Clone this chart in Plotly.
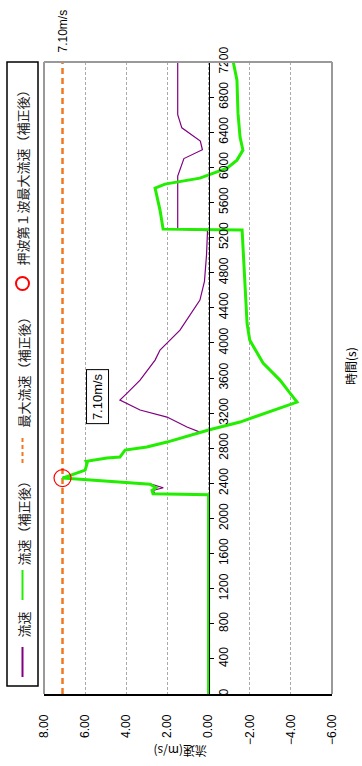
import plotly.graph_objects as go

# ---- data (time in s, velocity in m/s) ----
t_corr = [0, 2270, 2280, 2320, 2350, 2390, 2460, 2551, 2631, 2650, 2688, 2699, 2779, 2813, 2870, 2984, 3007, 3098, 3200, 3326,
          3428, 3576, 3770, 3884, 4032, 4226, 5023, 5285, 5296, 5513, 5763, 5809, 5877, 5991, 6082, 6196,
          6344, 6617, 6993, 7200]
v_corr = [0, 0, 2.7, 2.75, 2.55, 2.85, 7.10, 6.0, 5.9, 5.95, 4.94, 4.31, 4.06, 3.0, 2.02, 0.42, 0.0, -1.53, -2.8, -4.3,
          -3.96, -3.47, -2.65, -2.35, -2.0, -1.87, -1.70, -1.63, 2.21, 2.36, 2.6, 2.12, 0.42, -0.9, -1.38, -1.67,
          -1.53, -1.43, -1.38, -1.2]

t_raw = [0, 2270, 2280, 2320, 2350, 2390, 2460, 2551, 2631, 2650, 2688, 2699, 2779, 2813, 2870, 2984, 3041, 3121, 3155, 3235,
         3349, 3428, 3576, 3804, 3918, 4146, 4488, 4700, 5000, 5280, 5296, 5600, 5900, 6100, 6200, 6300, 6450, 6600, 7200]
v_raw = [0, 0, 2.6, 2.7, 2.2, 2.8, 7.05, 6.0, 5.9, 5.9, 4.94, 4.31, 4.06, 3.0, 2.02, 0.42, 1.05, 1.73, 2.02, 3.33,
         4.31, 3.96, 3.33, 2.6, 2.36, 1.39, 0.42, 0.2, 0.1, 0.05, 1.5, 1.5, 1.5, 1.2, 0.3, 0.4, 1.3, 1.5, 1.5]

max_v = 7.10
peak_t = 2460

x_ticks = [8, 6, 4, 2, 0, -2, -4, -6]
x_ticktext = ["8.00", "6.00", "4.00", "2.00", "0.00", "\u22122.00", "\u22124.00", "\u22126.00"]
y_ticks = list(range(0, 7201, 400))

FONT = "Liberation Sans, Arial, sans-serif"
JP = "Noto Sans CJK JP, sans-serif"

fig = go.Figure()
fig.add_trace(go.Scatter(x=[max_v, max_v], y=[0, 7200], mode="lines",
                         line=dict(color="#f07820", width=2.5, dash="6px,4px"), showlegend=False))
fig.add_trace(go.Scatter(x=v_raw, y=t_raw, mode="lines",
                         line=dict(color="#800080", width=1.2), showlegend=False))
fig.add_trace(go.Scatter(x=v_corr, y=t_corr, mode="lines",
                         line=dict(color="#22ee00", width=3), showlegend=False))
fig.add_trace(go.Scatter(x=[max_v], y=[peak_t], mode="markers",
                         marker=dict(symbol="circle-open", size=17, color="#ff0000", line=dict(width=1.2)),
                         showlegend=False))

L, R, T, B = 44, 30, 62, 72
W, H = 362, 766
pw, ph = W - L - R, H - T - B
zero_pos = (0 - 8) / (-6 - 8)

fig.update_layout(
    width=W, height=H, margin=dict(l=L, r=R, t=T, b=B, autoexpand=False),
    paper_bgcolor="white", plot_bgcolor="white",
    font=dict(family=FONT, size=11, color="black"),
    xaxis=dict(range=[8, -6], tickvals=x_ticks, ticktext=x_ticktext, tickangle=-90, automargin=False,
               showgrid=True, gridcolor="#aaaaaa", griddash="3px,2px", gridwidth=0.8,
               showline=True, linecolor="black", linewidth=1.5, ticks="", ticklabelstandoff=14,
               zeroline=False, tickfont=dict(size=12, family=FONT)),
    yaxis=dict(range=[0, 7200], tickvals=y_ticks, tickangle=-90, showgrid=False, automargin=False,
               anchor="free", position=zero_pos, side="right",
               showline=True, linecolor="black", linewidth=1.2, ticks="outside", ticklen=4,
               tickcolor="black", zeroline=False, tickfont=dict(size=12, family=FONT)),
)

def px2x(px):
    return (px - L) / pw

def py2y(py):
    return (H - B - py) / ph

shapes = [
    dict(type="line", xref="paper", yref="paper", x0=0, x1=1, y0=1, y1=1, line=dict(color="#999999", width=2)),
    dict(type="line", xref="paper", yref="paper", x0=1, x1=1, y0=0, y1=1, line=dict(color="#999999", width=2)),
    dict(type="line", xref="paper", yref="paper", x0=0, x1=0, y0=0, y1=1, line=dict(color="#999999", width=2)),
    # legend box
    dict(type="rect", xref="paper", yref="paper", x0=px2x(7), x1=px2x(38), y0=py2y(686), y1=py2y(62),
         line=dict(color="black", width=1.5), fillcolor="white"),
    dict(type="line", xref="paper", yref="paper", x0=px2x(22.5), x1=px2x(22.5), y0=py2y(677), y1=py2y(647),
         line=dict(color="#800080", width=2)),
    dict(type="line", xref="paper", yref="paper", x0=px2x(22.5), x1=px2x(22.5), y0=py2y(600), y1=py2y(570),
         line=dict(color="#22ee00", width=2)),
    dict(type="line", xref="paper", yref="paper", x0=px2x(22.5), x1=px2x(22.5), y0=py2y(463), y1=py2y(437),
         line=dict(color="#f07820", width=2, dash="4px,3px")),
    dict(type="circle", xref="paper", yref="paper", x0=px2x(16), x1=px2x(29), y0=py2y(290), y1=py2y(277),
         line=dict(color="#ff0000", width=2)),
]
fig.update_layout(shapes=shapes)

ann = []
def add_text(txt, px, py, angle, font, **kw):
    ann.append(dict(text=txt, xref="paper", yref="paper", x=px2x(px), y=py2y(py), textangle=angle,
                    showarrow=False, font=font, xanchor="center", yanchor="middle", **kw))

LEGF = dict(family=JP, size=13, color="#222222")
add_text("流速", 22.5, 625, -90, LEGF)
add_text("流速（補正後）", 22.5, 520, -90, LEGF)
add_text("最大流速（補正後）", 22.5, 369, -90, LEGF)
add_text("押波第１波最大流速（補正後）", 22.5, 175, -90, LEGF)

add_text("7.10m/s", 62.5, 31, -90, dict(family=FONT, size=12))
add_text("時間(s)", 350, 366, -90, dict(family=JP, size=12))
add_text("流速(m/s)", 180, 752, 180, dict(family=JP, size=12))

ann.append(dict(text="7.10m/s", x=5.42, xref="x", y=3383, yref="y", textangle=-90, showarrow=False,
                xanchor="center", yanchor="middle",
                font=dict(family=FONT, size=13), bgcolor="white", bordercolor="black", borderwidth=1, borderpad=3))
fig.update_layout(annotations=ann)

fig.write_html("out.html", config={"displayModeBar": False},
               post_script="document.body.style.margin='0';document.body.style.padding='0';"
                           "document.documentElement.style.overflow='hidden';")
